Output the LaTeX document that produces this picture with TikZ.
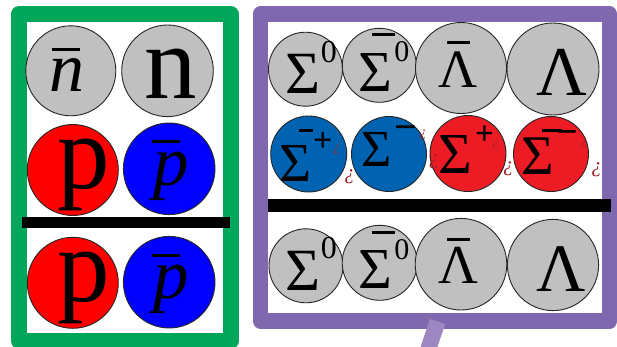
\documentclass[tikz,border=0pt]{standalone}
\usepackage{fontspec}
\setmainfont{Liberation Serif}
\definecolor{frgreen}{RGB}{0,166,90}
\definecolor{frpurple}{RGB}{128,104,174}
\definecolor{tailpurple}{RGB}{157,135,194}
\definecolor{ballgray}{RGB}{192,192,192}
\definecolor{redA}{RGB}{255,0,0}
\definecolor{blueA}{RGB}{0,0,255}
\definecolor{blueB}{RGB}{0,99,177}
\definecolor{redB}{RGB}{237,28,36}
\definecolor{junkred}{RGB}{160,32,40}
\newcommand\fs[1]{\fontsize{#1pt}{#1pt}\selectfont}
\newcommand\ovbar[3]{\makebox[0pt][l]{\hspace*{#1pt}\rule[#2pt]{#3pt}{3pt}}}
\newcommand\rsup[3]{\raisebox{#1pt}{\fs{#2}#3}}
\tikzset{
  ball/.style={circle, draw=black!85, line width=0.9pt, inner sep=0pt, outer sep=0pt, minimum size=#1},
  lbl/.style={anchor=base west, inner sep=0pt, outer sep=0pt},
  junk/.style={text=junkred, inner sep=0pt, outer sep=0pt, font=\itshape},
}
\begin{document}
\begin{tikzpicture}[x=1pt,y=-1pt]
\useasboundingbox (0,0) rectangle (617,346);
\fill[white] (0,0) rectangle (617,346);
% frames
\draw[line width=16pt, frgreen, line join=round] (19,14) rectangle (230.5,341);
\draw[line width=15.5pt, frpurple, line join=round] (260.5,14) rectangle (609.5,320.8);
\coordinate (tailA) at (437.5,321.5);
\coordinate (tailB) at (426.3,355);
\draw[line width=16pt, tailpurple] (tailA) -- (tailB);
% green box balls
\node[ball=90pt, fill=ballgray] (bnbar) at (70.8,70.8) {};
\node[ball=91.6pt, fill=ballgray] (bn) at (167.5,70.8) {};
\node[ball=91pt, fill=redA] (bp1) at (72.8,170) {};
\node[ball=91.6pt, fill=blueA] (bpb1) at (169.2,168.8) {};
\node[ball=91pt, fill=redA] (bp2) at (72.8,282.8) {};
\node[ball=91.6pt, fill=blueA] (bpb2) at (169.2,282.2) {};
\fill[black] (22,217) rectangle (230,228);
% purple box balls
\node[ball=74pt, fill=ballgray] (bs0a) at (305.5,69.2) {};
\node[ball=74pt, fill=ballgray] (bsb0a) at (379.3,65.3) {};
\node[ball=91pt, fill=ballgray] (blba) at (461,68) {};
\node[ball=92pt, fill=ballgray] (bla) at (553,69) {};
\node[ball=76pt, fill=blueB] (bsbp) at (308.7,154) {};
\node[ball=75pt, fill=blueB] (bsm) at (389,154) {};
\node[ball=76pt, fill=redB] (bsp) at (468,153.5) {};
\node[ball=75pt, fill=redB] (bsbm) at (551,154) {};
\fill[black] (268,199.3) rectangle (610.7,211.7);
\node[ball=74pt, fill=ballgray] (bs0b) at (306,265.8) {};
\node[ball=75pt, fill=ballgray] (bsb0b) at (379.7,262.8) {};
\node[ball=91.6pt, fill=ballgray] (blbb) at (461,264.2) {};
\node[ball=91.2pt, fill=ballgray] (blb) at (553,265) {};
% green labels
\node[lbl] (Lnbar) at (49.5,91.5) {\fs{70}\ovbar{2.2}{41}{28.3}\textit{n}};
\node[lbl] (Ln) at (144,98.5) {\fs{105}n};
\node[lbl] (Lp1) at (57.5,188.3) {\fs{105}p};
\node[lbl] (Lpb1) at (153.5,185.5) {\fs{71}\ovbar{-1.8}{42.3}{28.3}\textit{p}};
\node[lbl] (Lp2) at (57.5,301.6) {\fs{105}p};
\node[lbl] (Lpb2) at (153.5,298.2) {\fs{71}\ovbar{-1.8}{41.7}{28.3}\textit{p}};
% purple labels, row 1
\node[lbl] (Ls0a) at (285,93) {\fs{60}Σ\hspace{1pt}\rsup{30.5}{32}{0}};
\node[lbl] (Lsb0a) at (358.5,91.7) {\fs{58}\ovbar{13.2}{56.2}{23.3}Σ\hspace{2.2pt}\rsup{30.4}{30}{0}};
\node[lbl] (Llba) at (438.5,87.3) {\fs{54}\ovbar{8.5}{43.1}{23}Λ};
\node[lbl] (Lla) at (536.5,95) {\fs{70}Λ};
% row 2
\node[lbl] (Lsbp) at (279.5,181.7) {\fs{55}\ovbar{19.2}{49.5}{14.3}Σ\hspace{1.5pt}\rsup{30.5}{34}{\bfseries +}};
\node[lbl] (Lsm) at (361.5,166) {\fs{52}Σ\hspace{2.8pt}\rsup{25.8}{40}{\bfseries −}};
\node[lbl] (Lsp) at (438.5,173.3) {\fs{58}Σ\hspace{2.8pt}\rsup{28.5}{33}{\bfseries +}};
\node[lbl] (Lsbm) at (521.8,174) {\fs{56}\ovbar{19.9}{41.8}{20}Σ\hspace{2.4pt}\rsup{29.5}{38}{\bfseries −}};
% row 3
\node[lbl] (Ls0b) at (285,290) {\fs{60}Σ\hspace{1pt}\rsup{31.2}{32}{0}};
\node[lbl] (Lsb0b) at (358.5,288.3) {\fs{58}\ovbar{13.2}{54.5}{23.3}Σ\hspace{2.2pt}\rsup{28.7}{30}{0}};
\node[lbl] (Llbb) at (438.5,283.3) {\fs{55}\ovbar{8.5}{42.5}{23}Λ};
\node[lbl] (Llb) at (536.5,291.7) {\fs{68}Λ};
% stray glyphs
\node[junk] (q1) at (336.3,149.3) {\fs{14}¿};
\node[junk] (q2) at (423,135) {\fs{14}¿};
\node[junk] (q3) at (496,143.3) {\fs{14}¿};
\node[junk] (q4) at (584,142.3) {\fs{14}¿};
\node[junk] (q5) at (349.7,176.7) {\fs{21}¿};
\node[junk] (q6) at (434,162) {\fs{21}¿};
\node[junk] (q7) at (508.3,168.3) {\fs{21}¿};
\node[junk] (q8) at (596.7,170) {\fs{21}¿};
\end{tikzpicture}
\end{document}
